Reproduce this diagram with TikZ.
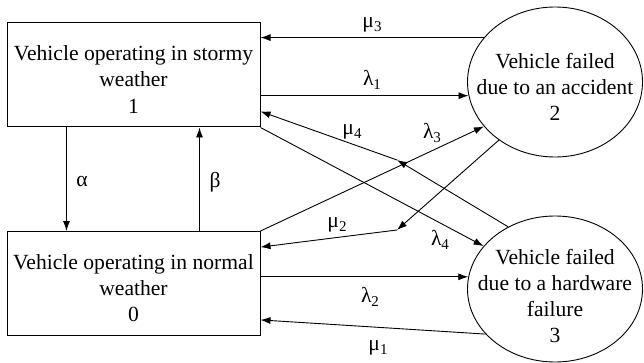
\documentclass[tikz,border=0pt]{standalone}
\usepackage{fontspec}
\setmainfont{Liberation Serif}
\usetikzlibrary{shapes.geometric,arrows.meta,calc}
\newcommand\sbx[1]{\raisebox{-0.35ex}{\fontsize{15}{15}\selectfont #1}}
\begin{document}
\begin{tikzpicture}[x=1pt,y=-1pt,
  every node/.style={font=\fontsize{21.6}{26.2}\selectfont},
  box/.style={draw,line width=1pt,minimum width=253pt,minimum height=104pt,inner sep=0pt},
  txt/.style={align=center,inner sep=0pt},
  oval/.style={draw,ellipse,line width=0.9pt,inner sep=0pt},
  arr/.style={line width=0.9pt,-{Latex[length=10pt,width=7pt]}},
  lbl/.style={inner sep=0pt}]
\useasboundingbox (0,0) rectangle (644,363);
\node[box] (b1) at (133.5,75) {};
\node[box] (b0) at (133.5,283.5) {};
\node[txt] (t1) at (133.5,79.5) {Vehicle operating in stormy\\weather\\1};
\node[txt] (t0) at (133.5,288) {Vehicle operating in normal\\weather\\0};
\node[oval,minimum width=175pt,minimum height=150pt] (e2) at (555,82) {};
\node[oval,minimum width=175pt,minimum height=146pt] (e3) at (555,289) {};
\node[txt] (t2) at (555,87) {Vehicle failed\\due to an accident\\2};
\node[txt] (t3) at (555,296) {Vehicle failed\\due to a hardware\\failure\\3};
\coordinate (m4) at (397,160);
\coordinate (m2) at (397,230);
% mu3
\draw[arr] (e2.148.6) -- (e2.148.6 -| b1.east);
% lambda1
\draw[arr] (b1.east |- e2.189.9) -- (e2.189.9);
% mu4
\draw[arr] (e3.127.6) -- (m4);
\draw[arr] (m4) -- (b1.-16.7);
% lambda4
\draw[arr] (b1.south east) -- (e3.149.5);
% lambda3
\draw[arr] (b0.north east) -- (e2.212.8);
% mu2
\draw[arr] (e2.226.5) -- (m2);
\draw[arr] (m2) -- (b0.16.9);
% lambda2
\draw[arr] (b0.east |- e3.172) -- (e3.172);
% mu1
\draw[arr] (e3.213.3) -- (b0.-16.9);
% alpha, beta
\draw[arr] ($(b1.south west)+(60,0)$) -- ($(b0.north west)+(60,0)$);
\draw[arr] ($(b0.north west)+(193,0)$) -- ($(b1.south west)+(193,0)$);
% labels
\node[lbl] (lm3) at (372,25) {μ\sbx{3}};
\node[lbl] (ll1) at (372,80) {λ\sbx{1}};
\node[lbl] (lm4) at (352,132) {μ\sbx{4}};
\node[lbl] (ll3) at (432,133) {λ\sbx{3}};
\node[lbl] (lm2) at (337,225) {μ\sbx{2}};
\node[lbl] (ll4) at (440,240) {λ\sbx{4}};
\node[lbl] (ll2) at (370,297) {λ\sbx{2}};
\node[lbl] (lm1) at (378,348) {μ\sbx{1}};
\node[lbl] (la) at (82,182) {α};
\node[lbl] (lb) at (215,182) {β};
\end{tikzpicture}
\end{document}
